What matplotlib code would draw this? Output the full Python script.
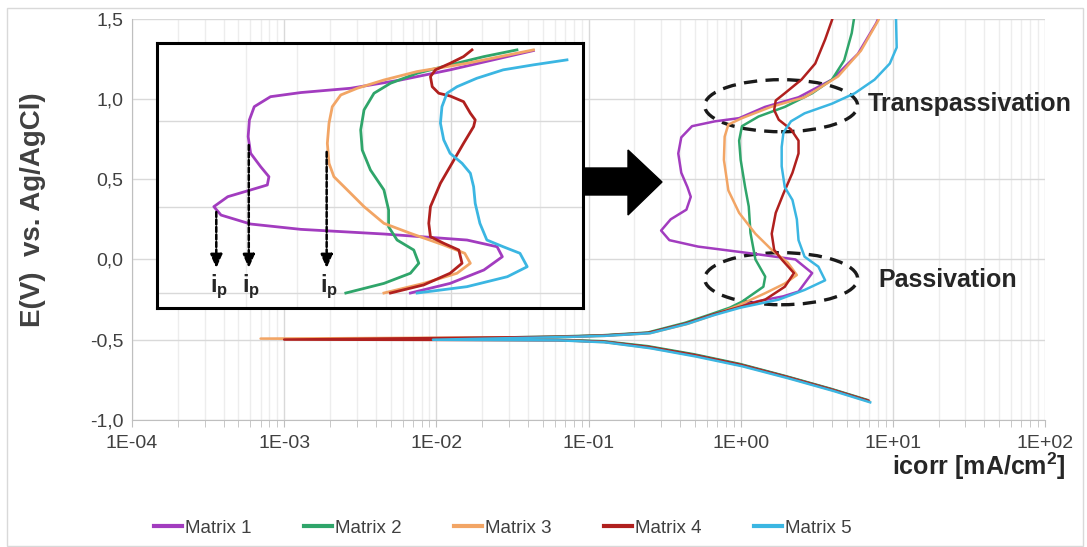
import matplotlib.pyplot as plt
from matplotlib.patches import Ellipse, Polygon, Rectangle
from matplotlib.ticker import FuncFormatter, NullFormatter, FixedLocator
from matplotlib.lines import Line2D

plt.rcParams['font.family'] = ['Liberation Sans', 'DejaVu Sans']
plt.rcParams['mathtext.fontset'] = 'custom'
plt.rcParams['mathtext.rm'] = 'Liberation Sans'
plt.rcParams['mathtext.bf'] = 'Liberation Sans:bold'

labels = ['Matrix 1', 'Matrix 2', 'Matrix 3', 'Matrix 4', 'Matrix 5']
colors = ['#A23CBF', '#2FA56A', '#F2A565', '#B0201E', '#3BB6E2']

# Polarisation curves: current density [mA/cm2] and potential [V vs Ag/AgCl]
m1_i = [6.9, 4.0, 2.0, 1.0, 0.50, 0.25, 0.126, 0.063, 0.0095, 0.063, 0.126, 0.25, 0.44, 0.63,
        0.90, 1.3, 1.9, 2.4, 2.95, 2.29, 1.12, 0.525, 0.34, 0.30, 0.347, 0.44, 0.47, 0.447,
        0.407, 0.389, 0.407, 0.479, 0.676, 0.977, 1.445, 2.4, 3.98, 5.89, 7.76, 8.3]
m1_E = [-0.88, -0.81, -0.73, -0.655, -0.595, -0.545, -0.512, -0.502, -0.497, -0.482, -0.474,
        -0.458, -0.40, -0.35, -0.30, -0.26, -0.23, -0.20, -0.085, 0.0, 0.04, 0.08, 0.12, 0.18,
        0.25, 0.31, 0.39, 0.45, 0.54, 0.66, 0.76, 0.83, 0.86, 0.88, 0.95, 1.01, 1.12, 1.28,
        1.47, 1.53]

m2_i = [6.8, 3.9, 1.95, 0.98, 0.49, 0.245, 0.124, 0.062, 0.008, 0.062, 0.124, 0.245, 0.43,
        0.62, 0.85, 1.02, 1.41, 1.45, 1.25, 1.16, 1.13, 1.07, 1.0, 0.977, 1.02, 1.31, 1.95,
        2.95, 3.98, 4.79, 5.37, 5.62]
m2_E = [-0.875, -0.805, -0.725, -0.65, -0.59, -0.54, -0.509, -0.5, -0.495, -0.48, -0.472,
        -0.455, -0.395, -0.345, -0.30, -0.263, -0.17, -0.107, 0.0, 0.165, 0.33, 0.45, 0.62,
        0.74, 0.83, 0.89, 0.95, 1.035, 1.12, 1.24, 1.41, 1.53]

m3_i = [7.0, 4.05, 2.02, 1.01, 0.505, 0.252, 0.127, 0.064, 0.0007, 0.064, 0.127, 0.252, 0.445,
        0.64, 0.95, 1.45, 1.95, 2.34, 2.04, 1.60, 1.25, 0.977, 0.83, 0.776, 0.785, 0.83, 1.02,
        1.58, 2.63, 4.37, 6.17, 8.04, 8.3]
m3_E = [-0.885, -0.815, -0.735, -0.66, -0.60, -0.55, -0.515, -0.503, -0.493, -0.484, -0.476,
        -0.46, -0.402, -0.352, -0.29, -0.21, -0.15, -0.097, -0.02, 0.06, 0.16, 0.29, 0.43,
        0.62, 0.765, 0.84, 0.88, 0.95, 1.01, 1.14, 1.30, 1.49, 1.53]

m4_i = [6.9, 3.95, 1.98, 0.99, 0.495, 0.248, 0.125, 0.063, 0.001, 0.063, 0.125, 0.248, 0.44,
        0.63, 0.95, 1.45, 1.95, 2.24, 1.86, 1.66, 1.60, 1.70, 1.91, 2.19, 2.40, 2.40, 2.14,
        1.78, 1.66, 1.70, 1.95, 2.51, 3.09, 3.59, 3.98, 4.1]
m4_E = [-0.88, -0.81, -0.73, -0.655, -0.595, -0.545, -0.512, -0.503, -0.499, -0.482, -0.474,
        -0.457, -0.398, -0.348, -0.30, -0.25, -0.17, -0.085, 0.0, 0.06, 0.16, 0.29, 0.41,
        0.54, 0.66, 0.74, 0.81, 0.87, 0.93, 0.99, 1.035, 1.12, 1.22, 1.37, 1.49, 1.53]

m5_i = [7.1, 4.1, 2.05, 1.02, 0.51, 0.255, 0.128, 0.064, 0.0095, 0.064, 0.128, 0.255, 0.45,
        0.65, 1.0, 1.78, 2.63, 3.59, 3.24, 2.63, 2.40, 2.34, 2.19, 1.95, 1.86, 1.86, 1.91,
        2.14, 2.63, 3.98, 5.62, 7.59, 9.55, 10.6, 10.5, 10.5]
m5_E = [-0.89, -0.82, -0.74, -0.665, -0.605, -0.553, -0.516, -0.504, -0.5, -0.484, -0.476,
        -0.459, -0.40, -0.35, -0.30, -0.25, -0.19, -0.13, -0.045, 0.017, 0.12, 0.25, 0.37,
        0.45, 0.58, 0.70, 0.79, 0.86, 0.91, 0.97, 1.035, 1.12, 1.22, 1.32, 1.49, 1.53]

# Inset (zoom of the passive range)
in1_i = [0.726, 0.99, 1.29, 1.49, 1.43, 1.13, 0.59, 0.308, 0.208, 0.165, 0.156, 0.174, 0.208,
         0.237, 0.240, 0.225, 0.208, 0.204, 0.206, 0.214, 0.243, 0.308, 0.455, 0.672, 0.99,
         1.47, 1.90]
in1_E = [-0.25, -0.194, -0.116, -0.039, 0.019, 0.058, 0.093, 0.120, 0.151, 0.203, 0.252, 0.31,
         0.349, 0.378, 0.426, 0.484, 0.562, 0.659, 0.756, 0.833, 0.891, 0.915, 0.94, 0.988,
         1.047, 1.115, 1.159]
in2_i = [0.438, 0.59, 0.726, 0.775, 0.745, 0.654, 0.612, 0.612, 0.59, 0.531, 0.498, 0.492,
         0.505, 0.546, 0.621, 0.765, 0.99, 1.29, 1.67]
in2_E = [-0.25, -0.194, -0.135, -0.077, 0.0, 0.058, 0.135, 0.233, 0.349, 0.465, 0.581, 0.698,
         0.814, 0.911, 0.969, 1.027, 1.076, 1.124, 1.163]
in3_i = [0.59, 0.805, 1.045, 1.16, 1.11, 0.942, 0.726, 0.59, 0.505, 0.443, 0.399, 0.384, 0.379,
         0.384, 0.394, 0.421, 0.479, 0.59, 0.765, 1.13, 1.90]
in3_E = [-0.25, -0.194, -0.135, -0.077, -0.019, 0.029, 0.097, 0.155, 0.252, 0.349, 0.426, 0.504,
         0.620, 0.737, 0.833, 0.901, 0.94, 0.988, 1.037, 1.085, 1.163]
in4_i = [0.621, 0.805, 0.99, 1.087, 1.06, 0.942, 0.849, 0.838, 0.849, 0.918, 1.005, 1.10, 1.19,
         1.205, 1.16, 1.10, 0.99, 0.906, 0.861, 0.849, 0.883, 0.99, 1.10, 1.175]
in4_E = [-0.25, -0.203, -0.135, -0.077, 0.0, 0.039, 0.077, 0.155, 0.252, 0.388, 0.504, 0.620,
         0.717, 0.756, 0.795, 0.862, 0.895, 0.911, 0.949, 1.008, 1.047, 1.085, 1.124, 1.163]
in5_i = [0.765, 1.13, 1.55, 1.81, 1.71, 1.50, 1.32, 1.25, 1.205, 1.19, 1.16, 1.087, 0.99, 0.942,
         0.918, 0.929, 0.966, 1.045, 1.22, 1.50, 1.90, 2.47]
in5_E = [-0.25, -0.213, -0.155, -0.097, -0.019, 0.019, 0.058, 0.155, 0.271, 0.368, 0.446, 0.504,
         0.562, 0.640, 0.737, 0.833, 0.911, 0.949, 0.998, 1.047, 1.076, 1.105]

# i_p markers in the inset: current, start potential
ip_i = [0.159, 0.205, 0.377]
ip_E = [0.221, 0.610, 0.570]

x_ticks = [1e-4, 1e-3, 1e-2, 1e-1, 1e0, 1e1, 1e2]
x_minor = [m * d for d in [1e-4, 1e-3, 1e-2, 1e-1, 1e0, 1e1] for m in range(2, 10)]
in_minor = [m * d for d in [0.1, 1.0] for m in range(2, 10)]

W, H = 1087, 547
fig = plt.figure(figsize=(W / 100, H / 100), dpi=100)


def fx(px):
    return px / W


def fy(py):
    return 1 - py / H


# ---- main chart ----
ax = fig.add_axes([fx(132), fy(420), (1045 - 132) / W, (420 - 18.6) / H])
main_data = [(m1_i, m1_E), (m2_i, m2_E), (m3_i, m3_E), (m4_i, m4_E), (m5_i, m5_E)]
for (xi, ye), c, lab in zip(main_data, colors, labels):
    ax.plot(xi, ye, color=c, lw=1.8, label=lab, solid_joinstyle='round')

ax.set_xscale('log')
ax.set_xlim(1e-4, 1e2)
ax.set_ylim(-1.0, 1.5)
ax.set_yticks([-1.0, -0.5, 0.0, 0.5, 1.0, 1.5])
ax.yaxis.set_major_formatter(FuncFormatter(lambda v, _: f"{v:.1f}".replace('.', ',')))
ax.xaxis.set_major_locator(FixedLocator(x_ticks))
ax.xaxis.set_minor_locator(FixedLocator(x_minor))
ax.xaxis.set_major_formatter(FuncFormatter(lambda v, _: f"{v:.0E}"))
ax.xaxis.set_minor_formatter(NullFormatter())
ax.grid(which='major', color='#D9D9D9', lw=1)
ax.grid(which='minor', axis='x', color='#EDEDED', lw=1)
ax.set_axisbelow(True)
for s in ['top', 'right']:
    ax.spines[s].set_visible(False)
for s in ['left', 'bottom']:
    ax.spines[s].set_color('#BFBFBF')
ax.tick_params(axis='y', length=0, labelsize=14, colors='#404040', pad=6)
ax.tick_params(axis='x', which='both', direction='out', length=5, color='#BFBFBF',
               labelsize=14, labelcolor='#404040', pad=6)

# annotations on the main chart
ax.add_patch(Ellipse((0.711, 0.783), 0.1676, 0.1297, transform=ax.transAxes, fill=False,
                     ec='#1A1A1A', lw=2.4, ls=(0, (4, 2.5)), clip_on=False))
ax.add_patch(Ellipse((0.711, 0.352), 0.1676, 0.1297, transform=ax.transAxes, fill=False,
                     ec='#1A1A1A', lw=2.4, ls=(0, (4, 2.5)), clip_on=False))
ax.text(0.806, 0.788, 'Transpassivation', transform=ax.transAxes, fontsize=18,
        fontweight='bold', color='#262626', va='center', ha='left', clip_on=False)
ax.text(0.817, 0.349, 'Passivation', transform=ax.transAxes, fontsize=18,
        fontweight='bold', color='#262626', va='center', ha='left', clip_on=False)

# big black arrow
arrow_px = [(584, 168), (628, 168), (628, 150), (662, 182), (628, 215), (628, 195), (584, 195)]
fig.add_artist(Polygon([(fx(x), fy(y)) for x, y in arrow_px], closed=True,
                       transform=fig.transFigure, fc='black', ec='black'))

# ---- inset ----
axi = fig.add_axes([fx(157), fy(308), (583 - 157) / W, (308 - 43) / H])
inset_data = [(in1_i, in1_E), (in2_i, in2_E), (in3_i, in3_E), (in4_i, in4_E), (in5_i, in5_E)]
for (xi, ye), c in zip(inset_data, colors):
    axi.plot(xi, ye, color=c, lw=2.0, solid_joinstyle='round')
axi.set_xscale('log')
axi.set_xlim(0.1, 2.8)
axi.set_ylim(-0.337, 1.203)
axi.yaxis.set_major_locator(FixedLocator([-0.25, 0.25, 0.75]))
axi.xaxis.set_major_locator(FixedLocator([0.1, 1.0]))
axi.xaxis.set_minor_locator(FixedLocator(in_minor))
axi.grid(which='major', color='#D9D9D9', lw=1)
axi.grid(which='minor', axis='x', color='#EDEDED', lw=1)
axi.set_axisbelow(True)
axi.tick_params(which='both', length=0, labelbottom=False, labelleft=False)
for s in axi.spines.values():
    s.set_color('black')
    s.set_linewidth(2.2)

for xi, ys in zip(ip_i, ip_E):
    axi.annotate('', xy=(xi, -0.105), xytext=(xi, ys),
                 arrowprops=dict(arrowstyle='-|>,head_width=0.35,head_length=0.8',
                                 ls=(0, (2, 1)), lw=1.8, color='black',
                                 shrinkA=0, shrinkB=0))
    axi.text(xi * 1.02, -0.215, r'$\mathbf{i_p}$', fontsize=17, ha='center', va='center',
             color='#262626')

# ---- labels, legend, frame ----
fig.text(fx(33), fy(210), 'E(V)  vs. Ag/AgCl)', rotation=90, fontsize=20, fontweight='bold',
         color='#404040', ha='center', va='center')
fig.text(fx(1066), fy(466), 'icorr [mA/cm$^\\mathbf{2}$]', fontsize=18, fontweight='bold',
         color='#262626', ha='right', va='center')

handles = [Line2D([], [], color=c, lw=3) for c in colors]
fig.legend(handles, labels, loc='center', bbox_to_anchor=(fx(503), fy(528)), ncol=5,
           frameon=False, fontsize=13.5, handlelength=1.5, handletextpad=0.15,
           columnspacing=2.8, labelcolor='#404040')

fig.add_artist(Rectangle((fx(7), fy(546)), (1083 - 7) / W, (546 - 8) / H, fill=False,
                         ec='#D9D9D9', lw=1, transform=fig.transFigure))

fig.savefig('out.png', dpi=100)
